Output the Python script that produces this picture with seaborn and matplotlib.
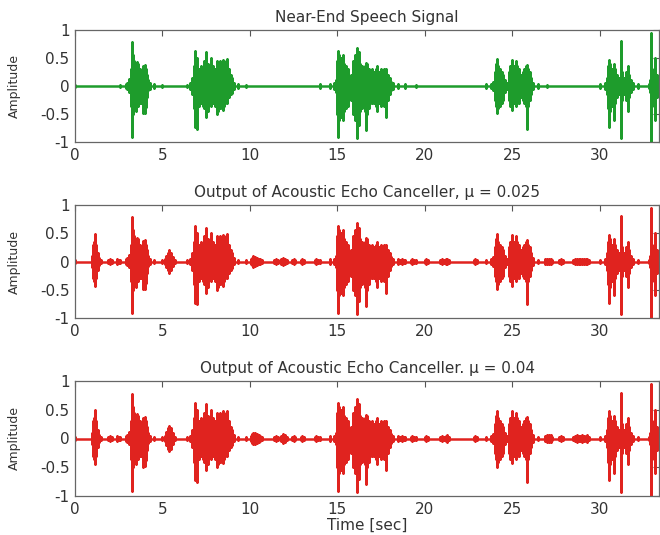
import matplotlib
matplotlib.use("Agg")
import matplotlib.pyplot as plt
import seaborn as sns
import pandas as pd
import numpy as np

# ---------------- data ----------------
# speech envelope shared by all three panels: time [s], upper, lower amplitude
speech_t = [0.0, 2.6, 2.9, 3.0, 3.1, 3.2, 3.3, 3.4, 3.5, 3.6, 3.7, 3.8, 3.9, 4.0, 4.1, 4.2, 4.3, 4.5, 5.0,
            6.4, 6.6, 6.7, 6.8, 6.9, 7.0, 7.1, 7.2, 7.3, 7.4, 7.5, 7.6, 7.7, 7.8, 7.9, 8.0, 8.1, 8.2, 8.3,
            8.4, 8.5, 8.6, 8.7, 8.8, 8.9, 9.0, 9.1, 9.3, 9.8,
            14.0, 14.6, 14.8, 14.9, 15.0, 15.1, 15.2, 15.3, 15.4, 15.5, 15.6, 15.7, 15.8, 15.9, 16.0, 16.1,
            16.2, 16.3, 16.4, 16.5, 16.6, 16.7, 16.8, 16.9, 17.0, 17.1, 17.2, 17.3, 17.4, 17.5, 17.6, 17.7,
            17.8, 17.9, 18.0, 18.1, 18.2, 18.5, 18.9, 19.5,
            23.5, 23.8, 23.9, 24.0, 24.1, 24.2, 24.3, 24.4, 24.5, 24.6, 24.7, 24.8, 24.9, 25.0, 25.1, 25.2,
            25.3, 25.4, 25.5, 25.6, 25.7, 25.8, 25.9, 26.0, 26.1, 26.2, 26.5, 27.0,
            30.0, 30.3, 30.4, 30.5, 30.6, 30.7, 30.8, 30.9, 31.0, 31.1, 31.2, 31.3, 31.4, 31.5, 31.6, 31.7,
            31.8, 31.9, 32.2, 32.8, 32.9, 33.0, 33.1, 33.2, 33.3, 33.4, 33.6]
speech_hi = [0.02, 0.025, 0.04, 0.06, 0.12, 0.30, 0.55, 0.45, 0.35, 0.40, 0.30, 0.25, 0.35, 0.38, 0.20, 0.10, 0.05, 0.03, 0.02,
             0.025, 0.05, 0.15, 0.35, 0.45, 0.35, 0.30, 0.35, 0.30, 0.45, 0.35, 0.40, 0.30, 0.20, 0.35, 0.30, 0.45, 0.40, 0.45,
             0.35, 0.45, 0.40, 0.35, 0.30, 0.20, 0.15, 0.06, 0.03, 0.02,
             0.03, 0.04, 0.05, 0.10, 0.45, 0.55, 0.50, 0.45, 0.40, 0.35, 0.30, 0.15, 0.20, 0.45, 0.55, 0.60,
             0.50, 0.40, 0.35, 0.30, 0.35, 0.40, 0.30, 0.25, 0.30, 0.25, 0.30, 0.30, 0.25, 0.30, 0.25, 0.30,
             0.25, 0.20, 0.15, 0.08, 0.05, 0.04, 0.03, 0.02,
             0.03, 0.04, 0.08, 0.25, 0.40, 0.35, 0.30, 0.25, 0.20, 0.10, 0.05, 0.25, 0.35, 0.40, 0.35, 0.30,
             0.35, 0.30, 0.20, 0.25, 0.30, 0.35, 0.30, 0.25, 0.15, 0.06, 0.03, 0.02,
             0.03, 0.05, 0.15, 0.35, 0.40, 0.30, 0.35, 0.30, 0.20, 0.15, 0.25, 0.25, 0.15, 0.25, 0.30, 0.20,
             0.10, 0.05, 0.03, 0.03, 0.10, 0.30, 0.20, 0.10, 0.20, 0.05, 0.03]
speech_lo = [-0.02, -0.025, -0.04, -0.06, -0.10, -0.35, -0.50, -0.40, -0.45, -0.35, -0.30, -0.30, -0.45, -0.48, -0.20, -0.08, -0.05, -0.03, -0.02,
             -0.025, -0.05, -0.15, -0.40, -0.50, -0.45, -0.35, -0.30, -0.35, -0.40, -0.50, -0.45, -0.30, -0.25, -0.30, -0.35, -0.40, -0.45, -0.40,
             -0.40, -0.35, -0.30, -0.25, -0.20, -0.15, -0.12, -0.05, -0.03, -0.02,
             -0.03, -0.04, -0.05, -0.10, -0.50, -0.60, -0.55, -0.50, -0.45, -0.40, -0.35, -0.20, -0.25, -0.50, -0.60, -0.65,
             -0.55, -0.45, -0.40, -0.35, -0.45, -0.50, -0.40, -0.30, -0.30, -0.30, -0.35, -0.30, -0.30, -0.35, -0.30, -0.35,
             -0.30, -0.25, -0.15, -0.08, -0.05, -0.04, -0.03, -0.02,
             -0.03, -0.04, -0.08, -0.25, -0.35, -0.40, -0.35, -0.30, -0.25, -0.10, -0.05, -0.25, -0.35, -0.35, -0.30, -0.35,
             -0.30, -0.30, -0.20, -0.25, -0.30, -0.35, -0.35, -0.25, -0.15, -0.06, -0.03, -0.02,
             -0.03, -0.05, -0.15, -0.40, -0.45, -0.35, -0.30, -0.30, -0.20, -0.15, -0.30, -0.25, -0.15, -0.25, -0.30, -0.20,
             -0.10, -0.05, -0.03, -0.03, -0.10, -0.35, -0.20, -0.10, -0.20, -0.05, -0.03]

# tall isolated peaks of the speech signal: time, top, bottom
spike_t = [3.25, 3.52, 3.90, 4.05, 6.86, 7.00, 7.50, 7.75, 8.10, 8.45, 8.70, 15.05, 15.30, 16.10, 16.25,
           16.65, 17.25, 17.80, 24.15, 25.00, 25.20, 25.85, 30.55, 30.80, 31.24, 31.60, 32.95, 33.15]
spike_hi = [0.78, 0.42, 0.36, 0.30, 0.62, 0.50, 0.60, 0.50, 0.42, 0.47, 0.48, 0.62, 0.55, 0.68, 0.60,
            0.41, 0.35, 0.30, 0.48, 0.47, 0.45, 0.38, 0.47, 0.40, 0.80, 0.35, 0.95, 0.50]
spike_lo = [-0.91, -0.30, -0.49, -0.38, -0.73, -0.76, -0.55, -0.35, -0.50, -0.43, -0.30, -0.91, -0.60, -0.93, -0.70,
            -0.79, -0.45, -0.55, -0.49, -0.43, -0.35, -0.76, -0.73, -0.60, -0.93, -0.45, -1.00, -0.60]

# residual echo left by the canceller (symmetric amplitude), mu = 0.025
res025_t = [0.95, 1.0, 1.05, 1.1, 1.2, 1.3, 1.4, 1.5, 1.9, 2.0, 2.1, 2.4, 2.5,
            5.15, 5.2, 5.3, 5.4, 5.5, 5.6, 5.7, 10.05, 10.1, 10.2, 10.3, 10.4, 10.5, 10.6, 10.7,
            11.4, 11.5, 11.6, 11.8, 11.9, 12.0, 12.1, 12.4, 12.5, 12.6, 12.9, 13.0, 13.1, 13.7, 13.8, 13.9,
            18.6, 18.7, 18.8, 19.2, 19.3, 19.4, 20.0, 20.1, 20.2, 20.9, 21.0, 21.1, 21.2, 21.3, 21.4,
            22.8, 22.9, 23.0, 26.9, 27.0, 27.1, 27.2, 27.3, 27.7, 27.8, 27.9,
            28.5, 28.6, 28.7, 28.8, 28.9, 29.0, 29.1, 29.2, 29.3, 29.4]
res025_a = [0.03, 0.10, 0.30, 0.35, 0.30, 0.15, 0.06, 0.03, 0.03, 0.05, 0.03, 0.04, 0.03,
            0.04, 0.10, 0.15, 0.20, 0.15, 0.08, 0.03, 0.04, 0.07, 0.09, 0.08, 0.06, 0.05, 0.04, 0.03,
            0.03, 0.04, 0.03, 0.05, 0.07, 0.05, 0.03, 0.03, 0.05, 0.03, 0.03, 0.04, 0.03, 0.03, 0.04, 0.03,
            0.03, 0.05, 0.03, 0.03, 0.04, 0.03, 0.03, 0.04, 0.03, 0.03, 0.04, 0.03, 0.04, 0.05, 0.03,
            0.03, 0.04, 0.03, 0.04, 0.05, 0.05, 0.05, 0.03, 0.03, 0.04, 0.03,
            0.03, 0.04, 0.05, 0.04, 0.04, 0.05, 0.04, 0.04, 0.05, 0.03]

# residual echo, mu = 0.04
res04_t = [0.95, 1.0, 1.05, 1.1, 1.2, 1.3, 1.4, 1.5, 1.9, 2.0, 2.1, 2.4, 2.5,
           5.15, 5.2, 5.3, 5.4, 5.5, 5.6, 5.7, 10.05, 10.1, 10.2, 10.3, 10.4, 10.5, 10.6, 10.7,
           11.4, 11.5, 11.6, 11.8, 11.9, 12.0, 12.1, 12.4, 12.5, 12.6, 12.9, 13.0, 13.1, 13.7, 13.8, 13.9,
           18.6, 18.7, 18.8, 19.2, 19.3, 19.4, 20.0, 20.1, 20.2, 20.9, 21.0, 21.1, 21.2, 21.3, 21.4,
           22.8, 22.9, 23.0, 26.9, 27.0, 27.1, 27.2, 27.3, 27.7, 27.8, 27.9,
           28.5, 28.6, 28.7, 28.8, 28.9, 29.0, 29.1, 29.2, 29.3, 29.4]
res04_a = [0.03, 0.10, 0.30, 0.35, 0.30, 0.15, 0.06, 0.03, 0.03, 0.05, 0.03, 0.04, 0.03,
           0.04, 0.12, 0.18, 0.22, 0.18, 0.10, 0.03, 0.05, 0.08, 0.10, 0.09, 0.07, 0.06, 0.04, 0.03,
           0.03, 0.04, 0.03, 0.05, 0.08, 0.06, 0.03, 0.03, 0.05, 0.03, 0.03, 0.05, 0.03, 0.03, 0.05, 0.03,
           0.03, 0.05, 0.03, 0.03, 0.05, 0.03, 0.03, 0.05, 0.03, 0.03, 0.05, 0.03, 0.05, 0.06, 0.03,
           0.03, 0.04, 0.03, 0.04, 0.06, 0.06, 0.06, 0.03, 0.03, 0.05, 0.03,
           0.03, 0.05, 0.06, 0.05, 0.05, 0.06, 0.05, 0.05, 0.06, 0.03]

# residual isolated peak (echo burst near 1.1 s): time, top, bottom
res_spike_t = [1.15]
res_spike_hi = [0.49]
res_spike_lo = [-0.44]

titles = ["Near-End Speech Signal",
          "Output of Acoustic Echo Canceller, \u03bc = 0.025",
          "Output of Acoustic Echo Canceller. \u03bc = 0.04"]
xticks = [0, 5, 10, 15, 20, 25, 30]
yticks = [-1, -0.5, 0, 0.5, 1]
ytick_labels = ["-1", "-0.5", "0", "0.5", "1"]

GREEN = "#1e9c2c"
RED = "#e0231f"

# ---------------- drawing ----------------
sns.set_theme(style="white")
plt.rcParams["font.family"] = ["DejaVu Sans"]


def waveform(env_t, env_hi, env_lo, extra_t=(), extra_hi=(), extra_lo=()):
    pts = pd.DataFrame({"t": list(env_t) + list(extra_t),
                        "hi": list(env_hi) + list(extra_hi),
                        "lo": list(env_lo) + list(extra_lo)}).sort_values("t")
    # each sample is a vertical stroke from its top to its bottom, joined along the zero line
    rows = []
    for r in pts.itertuples():
        rows += [(r.t, 0.0), (r.t, r.hi), (r.t, r.lo), (r.t, 0.0)]
    return pd.DataFrame(rows, columns=["time", "amp"])


panel_signals = [waveform(speech_t, speech_hi, speech_lo, spike_t, spike_hi, spike_lo)]
for rt, ra in [(res025_t, res025_a), (res04_t, res04_a)]:
    panel_signals.append(waveform(list(speech_t) + list(rt),
                                  list(speech_hi) + list(ra),
                                  list(speech_lo) + [-a for a in ra],
                                  list(spike_t) + res_spike_t,
                                  list(spike_hi) + res_spike_hi,
                                  list(spike_lo) + res_spike_lo))
colors = [GREEN, RED, RED]

fig = plt.figure(figsize=(6.6, 5.35), dpi=100)
W = 660.0
H = 535.0
boxes = [(75, 30, 659, 142), (75, 205, 659, 318), (75, 381, 659, 496)]

for i, (df, col, title, box) in enumerate(zip(panel_signals, colors, titles, boxes)):
    x0, y0, x1, y1 = box
    ax = fig.add_axes([x0 / W, 1 - y1 / H, (x1 - x0) / W, (y1 - y0) / H])
    sns.lineplot(data=df, x="time", y="amp", ax=ax, color=col, lw=1.8,
                 sort=False, estimator=None)
    ax.set_xlim(0, 33.4)
    ax.set_ylim(-1, 1)
    ax.set_xticks(xticks)
    ax.set_xticklabels([str(v) for v in xticks])
    ax.set_yticks(yticks)
    ax.set_yticklabels(ytick_labels)
    ax.tick_params(direction="in", length=4, width=0.8, top=True, right=True,
                   colors="#555555", labelcolor="#333333", labelsize=11, pad=4)
    for s in ax.spines.values():
        s.set_color("#666666")
        s.set_linewidth(0.9)
    ax.set_title(title, fontsize=11, color="#333333", pad=6)
    ax.set_ylabel("Amplitude", fontsize=9, color="#333333")
    ax.yaxis.set_label_coords(-0.092, 0.5)
    if i == 2:
        ax.set_xlabel("Time [sec]", fontsize=11, color="#333333", labelpad=1)
    else:
        ax.set_xlabel("")

fig.savefig("out.png", dpi=100)
